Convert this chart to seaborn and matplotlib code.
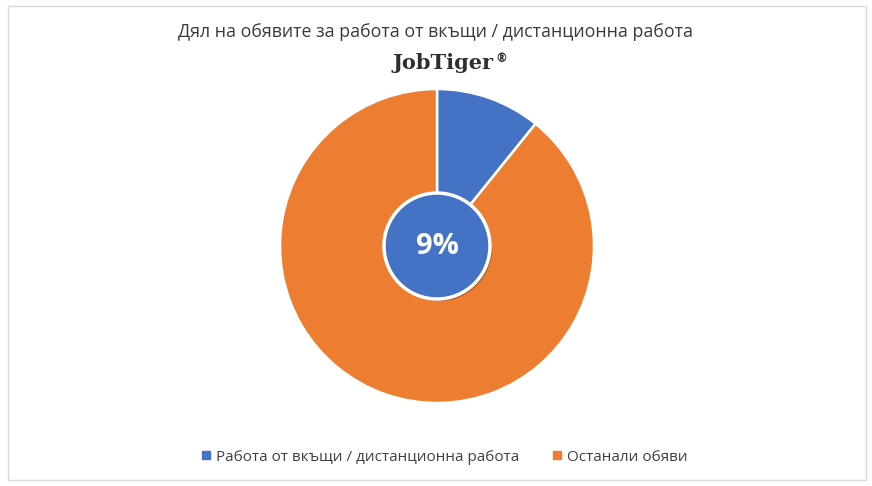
import matplotlib
matplotlib.use("Agg")
import matplotlib.pyplot as plt
import matplotlib.patheffects as pe
from matplotlib.patches import Circle, Rectangle
from matplotlib.lines import Line2D
import seaborn as sns

categories = ["Работа от вкъщи / дистанционна работа", "Останали обяви"]
values = [10.8, 89.2]
center_label = "9%"
title = "Дял на обявите за работа от вкъщи / дистанционна работа"
logo = "JobTiger"
colors = ["#4472C4", "#ED7D31"]

sns.set_theme(style="white")
plt.rcParams["font.family"] = ["Open Sans", "DejaVu Sans"]

W, H = 872, 486
fig = plt.figure(figsize=(W / 100, H / 100), dpi=100)
fig.patch.set_facecolor("white")

# border
fig.patches.append(Rectangle((8 / W, 6 / H), (866 - 8) / W, (480 - 6) / H,
                             transform=fig.transFigure, fill=False,
                             edgecolor="#D9D9D9", linewidth=1))

cx, cy, r = 437, 246, 157
ax = fig.add_axes([(cx - r) / W, (H - cy - r) / H, 2 * r / W, 2 * r / H])
ax.pie(values, colors=colors, startangle=90, counterclock=False,
       wedgeprops=dict(edgecolor="white", linewidth=1.8))
ax.set_xlim(-1, 1)
ax.set_ylim(-1, 1)
ax.set_aspect("auto")
ax.axis("off")

inner = Circle((0, 0), 53 / r, facecolor=colors[0], edgecolor="white",
               linewidth=2.5, zorder=5,
               path_effects=[pe.SimplePatchShadow(offset=(1.5, -1.5), alpha=0.3, shadow_rgbFace="#000000"),
                             pe.Normal()])
ax.add_patch(inner)
ax.text(0, 0, center_label, ha="center", va="center", color="white",
        fontsize=21, fontweight="bold", zorder=6)

fig.text(435 / W, 1 - 32 / H, title, ha="center", va="center",
         fontsize=12.8, color="#3A3A3A")
fig.text(443 / W, 1 - 63 / H, logo, ha="center", va="center",
         fontsize=15, fontweight="heavy", color="#2E2E2E", family="DejaVu Serif")
fig.text(501 / W, 1 - 58 / H, "®", ha="center", va="center",
         fontsize=8.5, fontweight="bold", color="#2E2E2E")

handles = [Line2D([], [], marker="s", linestyle="none", markersize=6,
                  markerfacecolor=c, markeredgecolor=c) for c in colors]
fig.legend(handles, categories, loc="center", bbox_to_anchor=(443 / W, 1 - 457 / H),
           ncol=2, frameon=False, fontsize=11, labelcolor="#404040",
           handletextpad=0.15, columnspacing=2.0, handlelength=1)

fig.savefig("out.png", dpi=100)
